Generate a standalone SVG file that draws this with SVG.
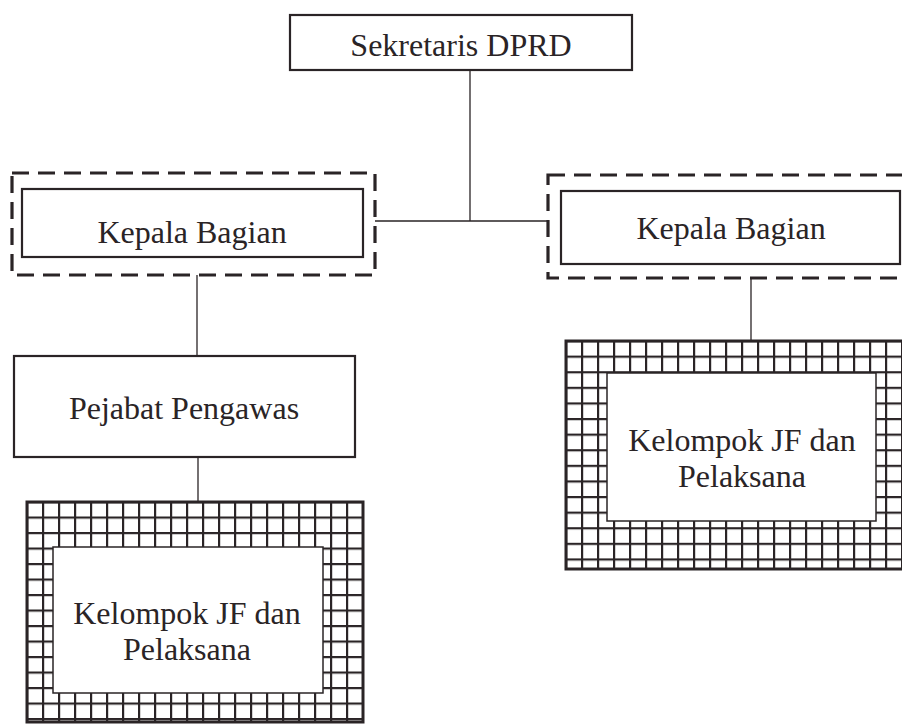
<svg xmlns="http://www.w3.org/2000/svg" width="902" height="724" viewBox="0 0 902 724">
<style>
.box{fill:#fff;stroke:#2a2426;stroke-width:2.2}
.dash{fill:none;stroke:#2a2426;stroke-width:3.2;stroke-dasharray:17 9}
.con{fill:none;stroke:#2a2426;stroke-width:1.3}
.inner{fill:#fff;stroke:#2a2426;stroke-width:1.5}
text{font-family:"Liberation Serif","Times New Roman",serif;font-size:32px;fill:#2a2426;text-anchor:middle}
</style>
<defs>
<pattern id="gl" x="26" y="501" width="16" height="15.5" patternUnits="userSpaceOnUse">
<rect width="16" height="15.5" fill="#fff"/>
<path d="M1 0V15.5M0 1H16" stroke="#2a2426" stroke-width="2.4"/>
</pattern>
<pattern id="gr" x="565" y="340" width="16" height="15.6" patternUnits="userSpaceOnUse">
<rect width="16" height="15.6" fill="#fff"/>
<path d="M1 0V15.6M0 1H16" stroke="#2a2426" stroke-width="2.4"/>
</pattern>
</defs>
<g id="connectors">
<path class="con" d="M470 70V221M375 221H548"/>
<path class="con" d="M197 275V356"/>
<path class="con" d="M198 457V502"/>
<path class="con" d="M751 278V341"/>
</g>
<g id="sekretaris">
<rect class="box" x="290" y="15" width="342" height="55"/>
<text x="461" y="56">Sekretaris DPRD</text>
</g>
<g id="kabag-left">
<rect class="dash" x="12" y="173" width="363" height="102"/>
<rect class="box" x="22" y="189" width="341" height="68"/>
<text x="192" y="243">Kepala Bagian</text>
</g>
<g id="kabag-right">
<rect class="dash" x="548" y="175" width="370" height="103"/>
<rect class="box" x="561" y="191" width="339" height="73"/>
<text x="731" y="239">Kepala Bagian</text>
</g>
<g id="pejabat">
<rect class="box" x="14" y="356" width="341" height="101"/>
<text x="184" y="419">Pejabat Pengawas</text>
</g>
<g id="kelompok-left">
<rect x="27" y="502" width="336" height="220" fill="url(#gl)" stroke="#2a2426" stroke-width="3"/>
<rect class="inner" x="53" y="547" width="270" height="146"/>
<text x="187" y="624">Kelompok JF dan</text>
<text x="187" y="660">Pelaksana</text>
</g>
<g id="kelompok-right">
<rect x="566" y="341" width="350" height="228" fill="url(#gr)" stroke="#2a2426" stroke-width="3"/>
<rect class="inner" x="607" y="373" width="269" height="148"/>
<text x="742" y="451">Kelompok JF dan</text>
<text x="742" y="487">Pelaksana</text>
</g>
</svg>
